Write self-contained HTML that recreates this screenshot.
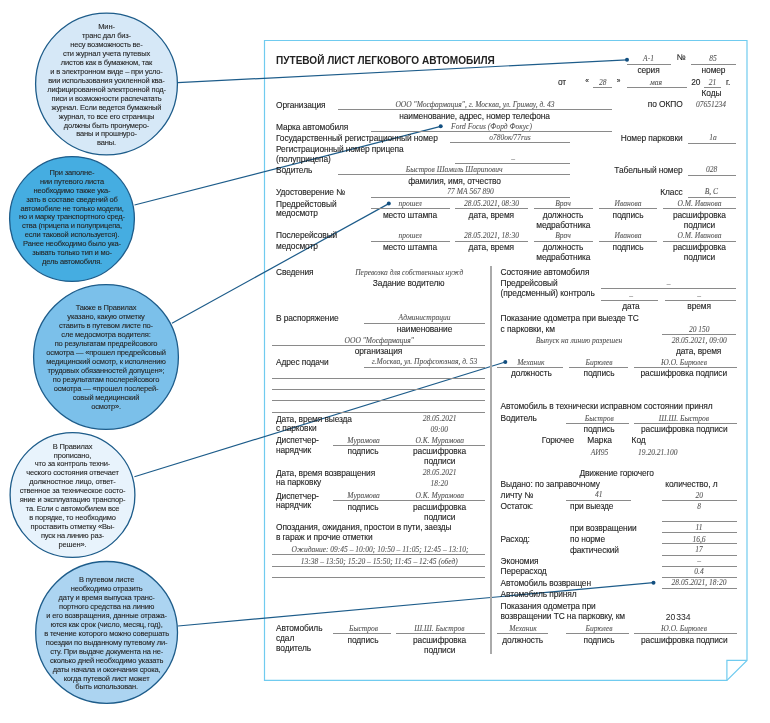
<!DOCTYPE html>
<html><head><meta charset="utf-8"><style>
html,body{margin:0;padding:0;background:#fff;width:770px;height:723px;overflow:hidden;position:relative}
.wrap{position:absolute;left:0;top:0;width:770px;height:723px;will-change:transform}
.t{position:absolute;white-space:nowrap;line-height:0}
.ac{width:300px;text-align:center}
.ar{width:300px;text-align:right}
.cL{font-family:'Liberation Sans',sans-serif;font-size:8.4px;color:#1e1e1e;letter-spacing:-0.1px;-webkit-text-stroke:0.1px #1e1e1e}
.cN{font-family:'Liberation Sans',sans-serif;font-size:8.6px;color:#1e1e1e}
.cI{font-family:'Liberation Serif',serif;font-style:italic;font-size:7.5px;color:#555;-webkit-text-stroke:0.08px #555}
.cT{font-family:'Liberation Sans',sans-serif;font-weight:bold;font-size:11px;color:#222}
.cC{font-family:'Liberation Sans',sans-serif;font-size:7.5px;letter-spacing:-0.16px;color:#262626;-webkit-text-stroke:0.1px #262626}
.hl{position:absolute;height:1px;background:#8a8a8a}
.vl{position:absolute;width:1px;background:#8a8a8a}
svg{position:absolute;left:0;top:0}
</style></head><body><div class="wrap">
<svg width="770" height="723" viewBox="0 0 770 723">
<path d="M264.5 40.5 H747 V660.4 L726.9 680.4 H264.5 Z" fill="#fff" stroke="#70cbef" stroke-width="1.2"/>
<path d="M726.9 680.4 V660.4 H747" fill="none" stroke="#70cbef" stroke-width="1.2"/>
<line x1="177.6" y1="82.7" x2="627" y2="59.8" stroke="#1d5c8a" stroke-width="1.2"/><circle cx="627" cy="59.8" r="2" fill="#124f80"/><line x1="134.5" y1="205.0" x2="440.7" y2="126.3" stroke="#1d5c8a" stroke-width="1.2"/><circle cx="440.7" cy="126.3" r="2" fill="#124f80"/><line x1="172" y1="323.2" x2="388.8" y2="203.6" stroke="#1d5c8a" stroke-width="1.2"/><circle cx="388.8" cy="203.6" r="2" fill="#124f80"/><line x1="134.4" y1="476.8" x2="505.3" y2="362" stroke="#1d5c8a" stroke-width="1.2"/><circle cx="505.3" cy="362" r="2" fill="#124f80"/><line x1="178" y1="626" x2="653.5" y2="582.7" stroke="#1d5c8a" stroke-width="1.2"/><circle cx="653.5" cy="582.7" r="2" fill="#124f80"/>
</svg>
<div class="t cT" style="left:276.4px;top:60.19px;transform:scaleX(0.915);transform-origin:0 0">ПУТЕВОЙ ЛИСТ ЛЕГКОВОГО АВТОМОБИЛЯ</div>
<div class="t cI ac" style="left:498.5px;top:59.27px">А-1</div>
<div class="hl" style="left:626.5px;top:64.1px;width:44.1px"></div>
<div class="t cL ac" style="left:531.0px;top:57.49px">№</div>
<div class="t cI ac" style="left:563.0px;top:59.27px">85</div>
<div class="hl" style="left:690.8px;top:64.1px;width:45.0px"></div>
<div class="t cL ac" style="left:498.5px;top:70.29px">серия</div>
<div class="t cL ac" style="left:563.5px;top:70.29px">номер</div>
<div class="t cL" style="left:558.0px;top:81.79px">от</div>
<div class="t cL ac" style="left:437.0px;top:81.39px;font-size:6.5px">«</div>
<div class="t cI ac" style="left:452.7px;top:82.87px">28</div>
<div class="hl" style="left:593.0px;top:86.8px;width:19.3px"></div>
<div class="t cL ac" style="left:468.5px;top:81.39px;font-size:6.5px">»</div>
<div class="t cI ac" style="left:506.0px;top:82.87px">мая</div>
<div class="hl" style="left:626.7px;top:86.8px;width:60.0px"></div>
<div class="t cL" style="left:691.3px;top:81.79px">20</div>
<div class="t cI ac" style="left:562.5px;top:82.87px">21</div>
<div class="hl" style="left:703.6px;top:86.8px;width:17.7px"></div>
<div class="t cL" style="left:726.0px;top:81.79px">г.</div>
<div class="t cL ac" style="left:561.5px;top:93.29px">Коды</div>
<div class="t cL" style="left:276.0px;top:104.79px">Организация</div>
<div class="t cI ac" style="left:325.0px;top:105.07px">ООО &quot;Мосфармация&quot;, г. Москва, ул. Гримау, д. 43</div>
<div class="hl" style="left:337.7px;top:108.8px;width:274.3px"></div>
<div class="t cL ar" style="left:382.6px;top:103.99px">по ОКПО</div>
<div class="t cI ac" style="left:561.0px;top:105.07px">07651234</div>
<div class="t cL ac" style="left:324.6px;top:115.59px">наименование, адрес, номер телефона</div>
<div class="t cL" style="left:276.0px;top:126.79px">Марка автомобиля</div>
<div class="t cI ac" style="left:341.5px;top:127.27px">Ford Focus (Форд Фокус)</div>
<div class="hl" style="left:371.0px;top:130.9px;width:241.0px"></div>
<div class="t cL" style="left:276.0px;top:138.09px">Государственный регистрационный номер</div>
<div class="t cI ac" style="left:360.0px;top:138.27px">о780ок/77rus</div>
<div class="hl" style="left:449.9px;top:142.1px;width:120.0px"></div>
<div class="t cL ar" style="left:382.6px;top:138.09px">Номер парковки</div>
<div class="t cI ac" style="left:563.0px;top:138.27px">1а</div>
<div class="hl" style="left:687.5px;top:142.5px;width:48.1px"></div>
<div class="t cL" style="left:276.0px;top:149.09px">Регистрационный номер прицепа</div>
<div class="t cL" style="left:276.0px;top:158.79px">(полуприцепа)</div>
<div class="t cI ac" style="left:363.0px;top:159.27px">–</div>
<div class="hl" style="left:455.0px;top:163.3px;width:115.0px"></div>
<div class="t cL" style="left:276.0px;top:169.79px">Водитель</div>
<div class="t cI ac" style="left:304.2px;top:170.47px">Быстров Шамиль Шарипович</div>
<div class="hl" style="left:337.7px;top:174.2px;width:232.3px"></div>
<div class="t cL ar" style="left:382.6px;top:169.89px">Табельный номер</div>
<div class="t cI ac" style="left:561.5px;top:170.27px">028</div>
<div class="hl" style="left:687.5px;top:174.5px;width:48.1px"></div>
<div class="t cL ac" style="left:304.5px;top:180.99px">фамилия, имя, отчество</div>
<div class="t cL" style="left:276.0px;top:192.29px">Удостоверение №</div>
<div class="t cI ac" style="left:320.6px;top:192.47px">77 МА 567 890</div>
<div class="hl" style="left:371.0px;top:196.5px;width:199.0px"></div>
<div class="t cL ar" style="left:382.6px;top:192.09px">Класс</div>
<div class="t cI ac" style="left:561.3px;top:192.47px">В, С</div>
<div class="hl" style="left:687.5px;top:196.5px;width:48.1px"></div>
<div class="hl" style="left:371.0px;top:207.8px;width:78.5px"></div>
<div class="t cI ac" style="left:260.2px;top:203.57px">прошел</div>
<div class="hl" style="left:455.0px;top:207.8px;width:72.8px"></div>
<div class="t cI ac" style="left:341.4px;top:203.57px">28.05.2021, 08:30</div>
<div class="hl" style="left:533.5px;top:207.8px;width:59.0px"></div>
<div class="t cI ac" style="left:413.0px;top:203.57px">Врач</div>
<div class="hl" style="left:598.8px;top:207.8px;width:58.5px"></div>
<div class="t cI ac" style="left:478.0px;top:203.57px">Иванова</div>
<div class="hl" style="left:663.4px;top:207.8px;width:72.2px"></div>
<div class="t cI ac" style="left:549.5px;top:203.57px">О.М. Иванова</div>
<div class="t cL ac" style="left:260.0px;top:214.59px">место штампа</div>
<div class="t cL ac" style="left:341.3px;top:214.59px">дата, время</div>
<div class="t cL ac" style="left:413.0px;top:214.59px">должность</div>
<div class="t cL ac" style="left:413.3px;top:225.19px">медработника</div>
<div class="t cL ac" style="left:478.0px;top:214.59px">подпись</div>
<div class="t cL ac" style="left:549.4px;top:214.59px">расшифровка</div>
<div class="t cL ac" style="left:549.5px;top:225.19px">подписи</div>
<div class="hl" style="left:371.0px;top:240.7px;width:78.5px"></div>
<div class="t cI ac" style="left:260.2px;top:236.17px">прошел</div>
<div class="hl" style="left:455.0px;top:240.7px;width:72.8px"></div>
<div class="t cI ac" style="left:341.4px;top:236.17px">28.05.2021, 18:30</div>
<div class="hl" style="left:533.5px;top:240.7px;width:59.0px"></div>
<div class="t cI ac" style="left:413.0px;top:236.17px">Врач</div>
<div class="hl" style="left:598.8px;top:240.7px;width:58.5px"></div>
<div class="t cI ac" style="left:478.0px;top:236.17px">Иванова</div>
<div class="hl" style="left:663.4px;top:240.7px;width:72.2px"></div>
<div class="t cI ac" style="left:549.5px;top:236.17px">О.М. Иванова</div>
<div class="t cL ac" style="left:260.0px;top:246.59px">место штампа</div>
<div class="t cL ac" style="left:341.3px;top:246.59px">дата, время</div>
<div class="t cL ac" style="left:413.0px;top:246.59px">должность</div>
<div class="t cL ac" style="left:413.3px;top:257.19px">медработника</div>
<div class="t cL ac" style="left:478.0px;top:246.59px">подпись</div>
<div class="t cL ac" style="left:549.4px;top:246.59px">расшифровка</div>
<div class="t cL ac" style="left:549.5px;top:257.19px">подписи</div>
<div class="t cL" style="left:276.0px;top:203.59px">Предрейстовый</div>
<div class="t cL" style="left:276.0px;top:213.19px">медосмотр</div>
<div class="t cL" style="left:276.0px;top:235.19px">Послерейсовый</div>
<div class="t cL" style="left:276.0px;top:245.69px">медосмотр</div>
<div class="vl" style="left:490px;top:265.5px;height:388.5px;width:2px;background:#aaa"></div>
<div class="t cL" style="left:276.0px;top:272.19px">Сведения</div>
<div class="t cI ac" style="left:259.2px;top:272.57px">Перевозка для собственных нужд</div>
<div class="t cL ac" style="left:258.7px;top:283.09px">Задание водителю</div>
<div class="t cL" style="left:276.0px;top:317.59px">В распоряжение</div>
<div class="t cI ac" style="left:274.5px;top:317.87px">Администрации</div>
<div class="hl" style="left:363.6px;top:322.5px;width:121.8px"></div>
<div class="t cL ac" style="left:274.5px;top:329.09px">наименование</div>
<div class="t cI ac" style="left:229.3px;top:340.67px">ООО &quot;Мосфармация&quot;</div>
<div class="hl" style="left:271.6px;top:344.9px;width:213.8px"></div>
<div class="t cL ac" style="left:228.5px;top:350.69px">организация</div>
<div class="t cL" style="left:276.0px;top:361.99px">Адрес подачи</div>
<div class="t cI ac" style="left:274.5px;top:362.07px">г.Москва, ул. Профсоюзная, д. 53</div>
<div class="hl" style="left:363.6px;top:366.7px;width:121.8px"></div>
<div class="hl" style="left:271.6px;top:377.7px;width:213.8px"></div>
<div class="hl" style="left:271.6px;top:389.1px;width:213.8px"></div>
<div class="hl" style="left:271.6px;top:400.1px;width:213.8px"></div>
<div class="hl" style="left:271.6px;top:412.0px;width:213.8px"></div>
<div class="t cL" style="left:276.0px;top:418.69px">Дата, время выезда</div>
<div class="t cL" style="left:276.0px;top:427.79px">с парковки</div>
<div class="t cI ac" style="left:289.5px;top:419.27px">28.05.2021</div>
<div class="t cI ac" style="left:289.3px;top:429.97px">09:00</div>
<div class="t cL" style="left:276.0px;top:440.29px">Диспетчер-</div>
<div class="t cL" style="left:276.0px;top:449.69px">нарядчик</div>
<div class="t cI ac" style="left:213.5px;top:440.67px">Мурамова</div>
<div class="t cI ac" style="left:289.7px;top:440.67px">О.К. Мурамова</div>
<div class="hl" style="left:333.1px;top:445.2px;width:152.3px"></div>
<div class="t cL ac" style="left:213.0px;top:451.39px">подпись</div>
<div class="t cL ac" style="left:289.5px;top:451.39px">расшифровка</div>
<div class="t cL ac" style="left:289.7px;top:461.19px">подписи</div>
<div class="t cL" style="left:276.0px;top:495.79px">Диспетчер-</div>
<div class="t cL" style="left:276.0px;top:505.19px">нарядчик</div>
<div class="t cI ac" style="left:213.5px;top:496.17px">Мурамова</div>
<div class="t cI ac" style="left:289.7px;top:496.17px">О.К. Мурамова</div>
<div class="hl" style="left:333.1px;top:499.8px;width:152.3px"></div>
<div class="t cL ac" style="left:213.0px;top:506.89px">подпись</div>
<div class="t cL ac" style="left:289.5px;top:506.89px">расшифровка</div>
<div class="t cL ac" style="left:289.7px;top:516.69px">подписи</div>
<div class="t cL" style="left:276.0px;top:473.39px">Дата, время возвращения</div>
<div class="t cL" style="left:276.0px;top:481.59px">на парковку</div>
<div class="t cI ac" style="left:289.5px;top:473.47px">28.05.2021</div>
<div class="t cI ac" style="left:289.3px;top:484.37px">18:20</div>
<div class="t cL" style="left:276.0px;top:527.09px">Опоздания, ожидания, простои в пути, заезды</div>
<div class="t cL" style="left:276.0px;top:536.59px">в гараж и прочие отметки</div>
<div class="t cI ac" style="left:230.0px;top:550.47px">Ожидание: 09:45 – 10:00; 10:50 – 11:05; 12:45 – 13:10;</div>
<div class="hl" style="left:271.6px;top:554.2px;width:213.8px"></div>
<div class="t cI ac" style="left:229.3px;top:561.57px">13:38 – 13:50; 15:20 – 15:50; 11:45 – 12:45 (обед)</div>
<div class="hl" style="left:271.6px;top:565.8px;width:213.8px"></div>
<div class="hl" style="left:271.6px;top:576.8px;width:213.8px"></div>
<div class="t cL" style="left:276.0px;top:627.79px">Автомобиль</div>
<div class="t cL" style="left:276.0px;top:638.39px">сдал</div>
<div class="t cL" style="left:276.0px;top:647.99px">водитель</div>
<div class="t cI ac" style="left:213.5px;top:629.17px">Быстров</div>
<div class="t cI ac" style="left:289.4px;top:629.17px">Ш.Ш. Быстров</div>
<div class="hl" style="left:333.1px;top:632.9px;width:57.9px"></div>
<div class="hl" style="left:396.4px;top:632.9px;width:89.0px"></div>
<div class="t cL ac" style="left:213.0px;top:639.89px">подпись</div>
<div class="t cL ac" style="left:289.5px;top:639.89px">расшифровка</div>
<div class="t cL ac" style="left:289.7px;top:649.99px">подписи</div>
<div class="t cL" style="left:500.6px;top:272.19px">Состояние автомобиля</div>
<div class="t cL" style="left:500.6px;top:283.09px">Предрейсовый</div>
<div class="t cL" style="left:500.6px;top:292.79px">(предсменный) контроль</div>
<div class="t cI ac" style="left:518.5px;top:283.77px">–</div>
<div class="hl" style="left:601.0px;top:288.1px;width:135.3px"></div>
<div class="t cI ac" style="left:481.2px;top:295.67px">–</div>
<div class="t cI ac" style="left:549.2px;top:295.67px">–</div>
<div class="hl" style="left:601.0px;top:299.8px;width:57.4px"></div>
<div class="hl" style="left:664.5px;top:299.8px;width:71.8px"></div>
<div class="t cL ac" style="left:481.0px;top:306.39px">дата</div>
<div class="t cL ac" style="left:549.1px;top:306.39px">время</div>
<div class="t cL" style="left:500.6px;top:318.29px">Показание одометра при выезде ТС</div>
<div class="t cL" style="left:500.6px;top:328.99px">с парковки, км</div>
<div class="t cI ac" style="left:549.2px;top:329.77px">20 150</div>
<div class="hl" style="left:661.7px;top:333.9px;width:74.6px"></div>
<div class="t cI ac" style="left:429.0px;top:341.07px">Выпуск на линию разрешен</div>
<div class="t cI ac" style="left:549.2px;top:341.17px">28.05.2021, 09:00</div>
<div class="t cL ac" style="left:548.6px;top:350.99px">дата, время</div>
<div class="t cI ac" style="left:380.8px;top:363.17px">Механик</div>
<div class="t cI ac" style="left:449.0px;top:363.17px">Бирюлев</div>
<div class="t cI ac" style="left:534.0px;top:363.17px">Ю.О. Бирюлев</div>
<div class="hl" style="left:496.6px;top:366.9px;width:66.0px"></div>
<div class="hl" style="left:568.7px;top:366.9px;width:59.8px"></div>
<div class="hl" style="left:633.6px;top:366.9px;width:103.0px"></div>
<div class="t cL ac" style="left:381.4px;top:372.79px">должность</div>
<div class="t cL ac" style="left:449.0px;top:372.79px">подпись</div>
<div class="t cL ac" style="left:533.8px;top:372.79px">расшифровка подписи</div>
<div class="t cL" style="left:500.6px;top:406.39px">Автомобиль в технически исправном состоянии принял</div>
<div class="t cL" style="left:500.6px;top:417.79px">Водитель</div>
<div class="t cI ac" style="left:449.3px;top:418.67px">Быстров</div>
<div class="t cI ac" style="left:533.9px;top:418.67px">Ш.Ш. Быстров</div>
<div class="hl" style="left:566.0px;top:423.2px;width:62.5px"></div>
<div class="hl" style="left:633.6px;top:423.2px;width:103.0px"></div>
<div class="t cL ac" style="left:449.0px;top:429.29px">подпись</div>
<div class="t cL ac" style="left:534.3px;top:429.29px">расшифровка подписи</div>
<div class="t cL ac" style="left:408.0px;top:440.09px">Горючее</div>
<div class="t cL ac" style="left:449.5px;top:440.09px">Марка</div>
<div class="t cL ac" style="left:488.6px;top:440.09px">Код</div>
<div class="t cI ac" style="left:449.5px;top:452.57px">АИ95</div>
<div class="t cI ac" style="left:507.7px;top:452.57px">19.20.21.100</div>
<div class="t cL ac" style="left:466.7px;top:473.19px">Движение горючего</div>
<div class="t cL" style="left:500.6px;top:483.99px">Выдано: по заправочному</div>
<div class="t cL ac" style="left:541.4px;top:483.99px">количество, л</div>
<div class="t cL" style="left:500.6px;top:494.99px">личту №</div>
<div class="t cI ac" style="left:448.8px;top:495.47px">41</div>
<div class="hl" style="left:566.0px;top:499.9px;width:65.2px"></div>
<div class="t cI ac" style="left:549.2px;top:496.17px">20</div>
<div class="hl" style="left:661.7px;top:499.9px;width:75.0px"></div>
<div class="t cL" style="left:500.6px;top:506.09px">Остаток:</div>
<div class="t cL" style="left:570.0px;top:506.09px">при выезде</div>
<div class="t cI ac" style="left:549.0px;top:506.87px">8</div>
<div class="hl" style="left:661.7px;top:520.9px;width:75.0px"></div>
<div class="t cL" style="left:570.0px;top:527.89px">при возвращении</div>
<div class="t cI ac" style="left:549.0px;top:528.27px">11</div>
<div class="hl" style="left:661.7px;top:532.1px;width:75.0px"></div>
<div class="t cL" style="left:500.6px;top:539.39px">Расход:</div>
<div class="t cL" style="left:570.0px;top:539.39px">по норме</div>
<div class="t cI ac" style="left:549.0px;top:539.57px">16,6</div>
<div class="hl" style="left:661.7px;top:543.3px;width:75.0px"></div>
<div class="t cL" style="left:570.0px;top:549.89px">фактический</div>
<div class="t cI ac" style="left:549.0px;top:550.27px">17</div>
<div class="hl" style="left:661.7px;top:554.6px;width:75.0px"></div>
<div class="t cL" style="left:500.6px;top:560.69px">Экономия</div>
<div class="t cI ac" style="left:549.0px;top:561.27px">–</div>
<div class="hl" style="left:661.7px;top:565.8px;width:75.0px"></div>
<div class="t cL" style="left:500.6px;top:571.49px">Перерасход</div>
<div class="t cI ac" style="left:549.0px;top:572.27px">0.4</div>
<div class="hl" style="left:661.7px;top:577.1px;width:75.0px"></div>
<div class="t cL" style="left:500.6px;top:582.69px">Автомобиль возвращен</div>
<div class="t cI ac" style="left:549.0px;top:583.27px">28.05.2021, 18:20</div>
<div class="hl" style="left:661.7px;top:588.3px;width:75.0px"></div>
<div class="t cL" style="left:500.6px;top:594.19px">Автомобиль принял</div>
<div class="t cL" style="left:500.6px;top:606.29px">Показания одометра при</div>
<div class="t cL" style="left:500.6px;top:616.39px">возвращении ТС на парковку, км</div>
<div class="t cN" style="left:665.7px;top:616.92px;word-spacing:-1.5px">20 334</div>
<div class="t cI ac" style="left:373.0px;top:628.67px">Механик</div>
<div class="t cI ac" style="left:449.0px;top:628.67px">Бирюлев</div>
<div class="t cI ac" style="left:534.0px;top:628.67px">Ю.О. Бирюлев</div>
<div class="hl" style="left:497.4px;top:633.1px;width:50.7px"></div>
<div class="hl" style="left:566.0px;top:633.1px;width:62.5px"></div>
<div class="hl" style="left:633.6px;top:633.1px;width:103.0px"></div>
<div class="t cL ac" style="left:372.6px;top:639.69px">должность</div>
<div class="t cL ac" style="left:449.0px;top:639.69px">подпись</div>
<div class="t cL ac" style="left:534.3px;top:639.69px">расшифровка подписи</div>
<svg width="770" height="723" viewBox="0 0 770 723">
<circle cx="106.5" cy="84" r="70.9" fill="#d6e8f7" stroke="#1d5c8a" stroke-width="1.3"/><circle cx="72" cy="219" r="62.4" fill="#45ade1" stroke="#1d5c8a" stroke-width="1.3"/><circle cx="106" cy="357" r="72.4" fill="#7bc0ea" stroke="#1d5c8a" stroke-width="1.3"/><circle cx="72.5" cy="495" r="62.4" fill="#e8f3fc" stroke="#1d5c8a" stroke-width="1.3"/><circle cx="106.6" cy="632.4" r="70.9" fill="#acd4f1" stroke="#1d5c8a" stroke-width="1.3"/>
</svg>
<div class="t cC ac" style="left:6.5px;width:200px;top:27.30px">Мин-</div><div class="t cC ac" style="left:6.5px;width:200px;top:36.23px">транс дал биз-</div><div class="t cC ac" style="left:6.5px;width:200px;top:45.16px">несу возможность ве-</div><div class="t cC ac" style="left:6.5px;width:200px;top:54.09px">сти журнал учета путевых</div><div class="t cC ac" style="left:6.5px;width:200px;top:63.02px">листов как в бумажном, так</div><div class="t cC ac" style="left:6.5px;width:200px;top:71.95px">и в электронном виде – при усло-</div><div class="t cC ac" style="left:6.5px;width:200px;top:80.88px">вии использования усиленной ква-</div><div class="t cC ac" style="left:6.5px;width:200px;top:89.81px">лифицированной электронной под-</div><div class="t cC ac" style="left:6.5px;width:200px;top:98.74px">писи и возможности распечатать</div><div class="t cC ac" style="left:6.5px;width:200px;top:107.67px">журнал. Если ведется бумажный</div><div class="t cC ac" style="left:6.5px;width:200px;top:116.60px">журнал, то все его страницы</div><div class="t cC ac" style="left:6.5px;width:200px;top:125.53px">должны быть пронумеро-</div><div class="t cC ac" style="left:6.5px;width:200px;top:134.46px">ваны и прошнуро-</div><div class="t cC ac" style="left:6.5px;width:200px;top:143.39px">ваны.</div><div class="t cC ac" style="left:-28.0px;width:200px;top:172.80px">При заполне-</div><div class="t cC ac" style="left:-28.0px;width:200px;top:181.73px">нии путевого листа</div><div class="t cC ac" style="left:-28.0px;width:200px;top:190.66px">необходимо также ука-</div><div class="t cC ac" style="left:-28.0px;width:200px;top:199.59px">зать в составе сведений об</div><div class="t cC ac" style="left:-28.0px;width:200px;top:208.52px">автомобиле не только модели,</div><div class="t cC ac" style="left:-28.0px;width:200px;top:217.45px">но и марку транспортного сред-</div><div class="t cC ac" style="left:-28.0px;width:200px;top:226.38px">ства (прицепа и полуприцепа,</div><div class="t cC ac" style="left:-28.0px;width:200px;top:235.31px">если таковой используется).</div><div class="t cC ac" style="left:-28.0px;width:200px;top:244.24px">Ранее необходимо было ука-</div><div class="t cC ac" style="left:-28.0px;width:200px;top:253.17px">зывать только тип и мо-</div><div class="t cC ac" style="left:-28.0px;width:200px;top:262.10px">дель автомобиля.</div><div class="t cC ac" style="left:6.0px;width:200px;top:308.40px">Также в Правилах</div><div class="t cC ac" style="left:6.0px;width:200px;top:317.33px">указано, какую отметку</div><div class="t cC ac" style="left:6.0px;width:200px;top:326.26px">ставить в путевом листе по-</div><div class="t cC ac" style="left:6.0px;width:200px;top:335.19px">сле медосмотра водителя:</div><div class="t cC ac" style="left:6.0px;width:200px;top:344.12px">по результатам предрейсового</div><div class="t cC ac" style="left:6.0px;width:200px;top:353.05px">осмотра — «прошел предрейсовый</div><div class="t cC ac" style="left:6.0px;width:200px;top:361.98px">медицинский осмотр, к исполнению</div><div class="t cC ac" style="left:6.0px;width:200px;top:370.91px">трудовых обязанностей допущен»;</div><div class="t cC ac" style="left:6.0px;width:200px;top:379.84px">по результатам послерейсового</div><div class="t cC ac" style="left:6.0px;width:200px;top:388.77px">осмотра — «прошел послерей-</div><div class="t cC ac" style="left:6.0px;width:200px;top:397.70px">совый медицинский</div><div class="t cC ac" style="left:6.0px;width:200px;top:406.63px">осмотр».</div><div class="t cC ac" style="left:-27.5px;width:200px;top:446.60px">В Правилах</div><div class="t cC ac" style="left:-27.5px;width:200px;top:455.53px">прописано,</div><div class="t cC ac" style="left:-27.5px;width:200px;top:464.46px">что за контроль техни-</div><div class="t cC ac" style="left:-27.5px;width:200px;top:473.39px">ческого состояния отвечает</div><div class="t cC ac" style="left:-27.5px;width:200px;top:482.32px">должностное лицо, ответ-</div><div class="t cC ac" style="left:-27.5px;width:200px;top:491.25px">ственное за техническое состо-</div><div class="t cC ac" style="left:-27.5px;width:200px;top:500.18px">яние и эксплуатацию транспор-</div><div class="t cC ac" style="left:-27.5px;width:200px;top:509.11px">та. Если с автомобилем все</div><div class="t cC ac" style="left:-27.5px;width:200px;top:518.04px">в порядке, то необходимо</div><div class="t cC ac" style="left:-27.5px;width:200px;top:526.97px">проставить отметку «Вы-</div><div class="t cC ac" style="left:-27.5px;width:200px;top:535.90px">пуск на линию раз-</div><div class="t cC ac" style="left:-27.5px;width:200px;top:544.83px">решен».</div><div class="t cC ac" style="left:6.6px;width:200px;top:580.30px">В путевом листе</div><div class="t cC ac" style="left:6.6px;width:200px;top:589.23px">необходимо отразить</div><div class="t cC ac" style="left:6.6px;width:200px;top:598.16px">дату и время выпуска транс-</div><div class="t cC ac" style="left:6.6px;width:200px;top:607.09px">портного средства на линию</div><div class="t cC ac" style="left:6.6px;width:200px;top:616.02px">и его возвращения, данные отража-</div><div class="t cC ac" style="left:6.6px;width:200px;top:624.95px">ются как срок (число, месяц, год),</div><div class="t cC ac" style="left:6.6px;width:200px;top:633.88px">в течение которого можно совершать</div><div class="t cC ac" style="left:6.6px;width:200px;top:642.81px">поездки по выданному путевому ли-</div><div class="t cC ac" style="left:6.6px;width:200px;top:651.74px">сту. При выдаче документа на не-</div><div class="t cC ac" style="left:6.6px;width:200px;top:660.67px">сколько дней необходимо указать</div><div class="t cC ac" style="left:6.6px;width:200px;top:669.60px">даты начала и окончания срока,</div><div class="t cC ac" style="left:6.6px;width:200px;top:678.53px">когда путевой лист может</div><div class="t cC ac" style="left:6.6px;width:200px;top:687.46px">быть использован.</div>
</div></body></html>
